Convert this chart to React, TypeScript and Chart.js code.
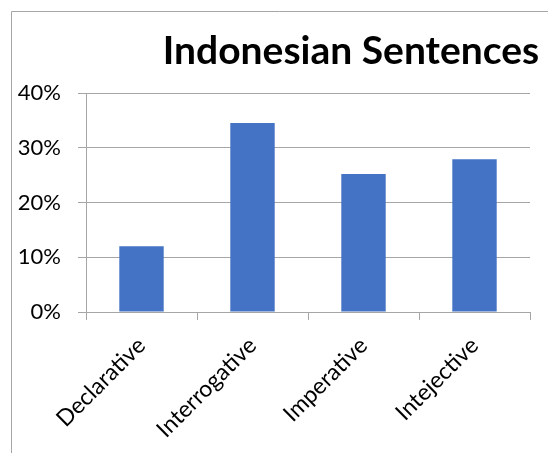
import React, { useEffect, useRef } from "react";
import { Chart, registerables } from "chart.js";

Chart.register(...registerables);

const categories = ["Declarative", "Interrogative", "Imperative", "Intejective"];
const values = [0.12, 0.345, 0.252, 0.279];
const titleText = "Indonesian Sentences";
const FONT = "Lato, 'Open Sans', sans-serif";

const framePlugin = {
  id: "frame",
  beforeDraw(chart: any) {
    const ctx = chart.ctx;
    ctx.save();
    ctx.fillStyle = "#ffffff";
    ctx.fillRect(0, 0, chart.width, chart.height);
    ctx.strokeStyle = "#a6a6a6";
    ctx.lineWidth = 1;
    ctx.beginPath();
    ctx.moveTo(11.5, chart.height);
    ctx.lineTo(11.5, 11.5);
    ctx.lineTo(chart.width, 11.5);
    ctx.stroke();
    ctx.restore();
  },
  afterDraw(chart: any) {
    const ctx = chart.ctx;
    ctx.save();
    ctx.fillStyle = "#000000";
    ctx.font = `bold 39px ${FONT}`;
    ctx.textAlign = "center";
    ctx.textBaseline = "alphabetic";
    ctx.fillText(titleText, 351, 64);
    ctx.restore();
  },
};

export default function App() {
  const ref = useRef<HTMLCanvasElement | null>(null);
  useEffect(() => {
    if (!ref.current) return;
    const chart = new Chart(ref.current, {
      type: "bar",
      data: {
        labels: categories,
        datasets: [
          {
            data: values,
            backgroundColor: "#4472C4",
            borderWidth: 0,
            categoryPercentage: 0.8,
            barPercentage: 0.5,
          },
        ],
      },
      options: {
        responsive: false,
        animation: false,
        devicePixelRatio: 1,
        layout: { padding: { top: 93, right: 18, bottom: 0, left: 0 } },
        plugins: { legend: { display: false }, title: { display: false }, tooltip: { enabled: false } },
        scales: {
          x: {
            afterFit(scale: any) {
              scale.height = 141;
            },
            grid: {
              display: true,
              drawOnChartArea: false,
              drawTicks: true,
              tickLength: 8,
              color: "#a6a6a6",
              offset: true,
            },
            border: { display: true, color: "#a6a6a6" },
            ticks: {
              minRotation: 45,
              maxRotation: 45,
              color: "#000000",
              font: { family: FONT, size: 23 },
              padding: 12,
            },
          },
          y: {
            min: 0,
            max: 0.4,
            afterFit(scale: any) {
              scale.width = 86;
            },
            grid: { color: "#a6a6a6", tickLength: 8 },
            border: { display: true, color: "#a6a6a6" },
            ticks: {
              stepSize: 0.1,
              padding: 17,
              color: "#000000",
              font: { family: FONT, size: 22 },
              callback: (v: any) => `${Math.round(Number(v) * 100)}%`,
            },
          },
        },
      },
      plugins: [framePlugin],
    });
    return () => chart.destroy();
  }, []);
  return (
    <div style={{ position: "absolute", left: 0, top: 0, width: 548, height: 453 }}>
      <canvas ref={ref} width={548} height={453} />
    </div>
  );
}
